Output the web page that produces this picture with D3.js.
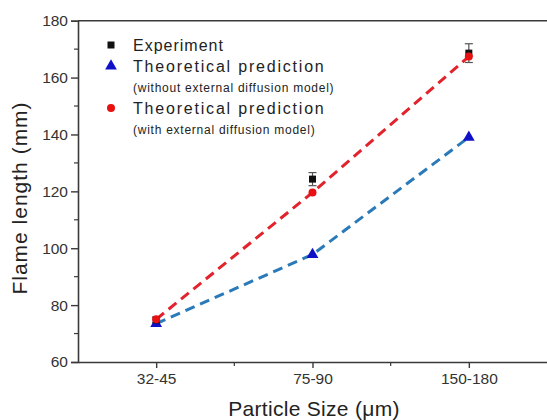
<!DOCTYPE html>
<html><head><meta charset="utf-8">
<script src="https://cdn.jsdelivr.net/npm/d3@7"></script>
<style>body{margin:0;background:#fff}svg{display:block}text{font-family:Arial,"Liberation Sans",sans-serif}</style>
</head><body><svg id="c" width="547" height="420"></svg>
<script>
const categories = ["32-45", "75-90", "150-180"];
const experiment = [74.8, 124.3, 168.6];
const experimentErr = [1.0, 2.3, 3.3];
const withoutDiffusion = [73.5, 97.8, 139.0];
const withDiffusion = [75.0, 119.6, 167.4];
const yTicks = [60, 80, 100, 120, 140, 160, 180];
const yMinorTicks = [70, 90, 110, 130, 150, 170];

const svg = d3.select("#c");
const L = 78, R = 547, T = 20.7, B = 362;
const x = d3.scalePoint().domain(categories).range([L, R]).padding(0.5);
const y = d3.scaleLinear().domain([60, 180]).range([B, T]);
const axisCol = "#3a3a3a";

// frame
svg.append("line").attr("x1", L).attr("x2", R).attr("y1", T).attr("y2", T).attr("stroke", axisCol).attr("stroke-width", 1.6);

// y axis
const ya = svg.append("g").attr("transform", `translate(${L},0)`)
  .call(d3.axisLeft(y).tickValues(yTicks).tickSize(7).tickPadding(3));
ya.select(".domain").attr("stroke", axisCol).attr("stroke-width", 1.6);
ya.selectAll(".tick line").attr("stroke", axisCol).attr("stroke-width", 1.4);
ya.selectAll(".tick text").attr("font-size", 15.5).attr("fill", "#333").attr("font-family", "Arial, Liberation Sans, sans-serif");
svg.append("g").selectAll("line").data(yMinorTicks).join("line")
  .attr("x1", L - 4).attr("x2", L).attr("y1", d => y(d)).attr("y2", d => y(d))
  .attr("stroke", axisCol).attr("stroke-width", 1.2);

// x axis
const xa = svg.append("g").attr("transform", `translate(0,${B})`)
  .call(d3.axisBottom(x).tickSize(6).tickPadding(5).tickSizeOuter(0));
xa.select(".domain").attr("stroke", axisCol).attr("stroke-width", 1.6);
xa.selectAll(".tick line").attr("stroke", axisCol).attr("stroke-width", 1.4);
xa.selectAll(".tick text").attr("font-size", 15.5).attr("fill", "#333").attr("font-family", "Arial, Liberation Sans, sans-serif");
const mids = d3.pairs(categories).map(([a, b]) => (x(a) + x(b)) / 2);
svg.append("g").selectAll("line").data(mids).join("line")
  .attr("x1", d => d).attr("x2", d => d).attr("y1", B).attr("y2", B + 4)
  .attr("stroke", axisCol).attr("stroke-width", 1.2);

// titles
svg.append("text").attr("x", 314).attr("y", 416).attr("text-anchor", "middle")
  .attr("font-size", 21).attr("letter-spacing", 0.3).attr("fill", "#222").text("Particle Size (\u03bcm)");
svg.append("text").attr("transform", "translate(27,198) rotate(-90)").attr("text-anchor", "middle")
  .attr("font-size", 21).attr("letter-spacing", 1).attr("fill", "#222").text("Flame length (mm)");

// lines
const line = d3.line().x((d, i) => x(categories[i])).y(d => y(d));
svg.append("path").datum(withoutDiffusion).attr("d", line).attr("fill", "none")
  .attr("stroke", "#2a7ab9").attr("stroke-width", 3).attr("stroke-dasharray", "10,6");
svg.append("path").datum(withDiffusion).attr("d", line).attr("fill", "none")
  .attr("stroke", "#e2232b").attr("stroke-width", 3).attr("stroke-dasharray", "10,6");

// error bars
const eg = svg.append("g").attr("stroke", "#555").attr("stroke-width", 1.2);
experiment.forEach((v, i) => {
  const cx = x(categories[i]);
  eg.append("line").attr("x1", cx).attr("x2", cx).attr("y1", y(v - experimentErr[i])).attr("y2", y(v + experimentErr[i]));
  [v - experimentErr[i], v + experimentErr[i]].forEach(e =>
    eg.append("line").attr("x1", cx - 4).attr("x2", cx + 4).attr("y1", y(e)).attr("y2", y(e)));
});

// markers
const tri = d3.symbol().type(d3.symbolTriangle).size(60);
svg.append("g").selectAll("path").data(withoutDiffusion).join("path")
  .attr("d", tri).attr("transform", (d, i) => `translate(${x(categories[i])},${y(d)})`).attr("fill", "#1010c8");
svg.append("g").selectAll("rect").data(experiment).join("rect")
  .attr("x", (d, i) => x(categories[i]) - 3.5).attr("y", d => y(d) - 3.5)
  .attr("width", 7).attr("height", 7).attr("fill", "#111");
svg.append("g").selectAll("circle").data(withDiffusion).join("circle")
  .attr("cx", (d, i) => x(categories[i])).attr("cy", d => y(d)).attr("r", 4).attr("fill", "#e81010");

// legend
const lg = svg.append("g");
const mx = 111, tx = 133;
lg.append("rect").attr("x", mx - 3.5).attr("y", 45 - 3.5).attr("width", 7).attr("height", 7).attr("fill", "#111");
lg.append("path").attr("d", tri).attr("transform", `translate(${mx},66)`).attr("fill", "#1010c8");
lg.append("circle").attr("cx", mx).attr("cy", 108).attr("r", 4).attr("fill", "#e81010");
const items = [
  {t: "Experiment", y: 45, s: 16, ls: 1},
  {t: "Theoretical prediction", y: 66, s: 16, ls: 1.8},
  {t: "(without external diffusion model)", y: 88, s: 12, ls: 0.75},
  {t: "Theoretical prediction", y: 108, s: 16, ls: 1.8},
  {t: "(with external diffusion model)", y: 130, s: 12, ls: 0.75}
];
lg.selectAll("text").data(items).join("text")
  .attr("x", tx).attr("y", d => d.y).attr("dy", "0.35em")
  .attr("font-size", d => d.s).attr("letter-spacing", d => d.ls).attr("fill", "#222").text(d => d.t);
</script></body></html>
